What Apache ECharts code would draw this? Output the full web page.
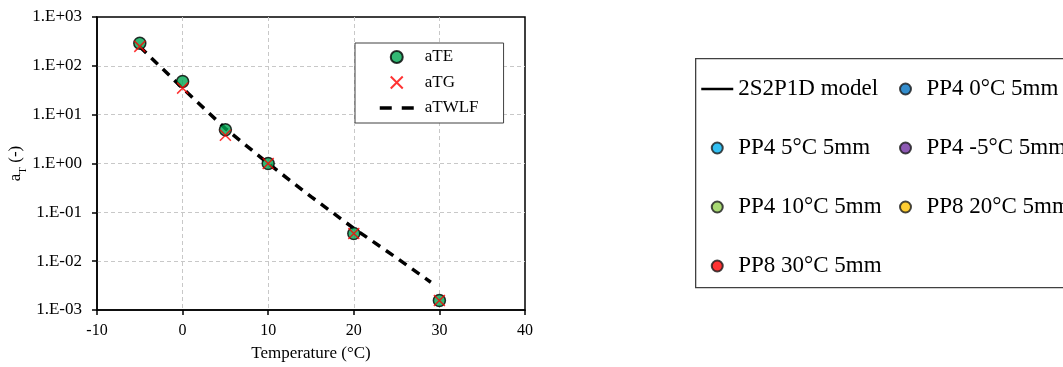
<!DOCTYPE html>
<html>
<head>
<meta charset="utf-8">
<script src="https://cdn.jsdelivr.net/npm/echarts@6/dist/echarts.min.js"></script>
<style>
html,body{margin:0;padding:0;background:#fff;overflow:hidden;}
#main{width:1100px;height:367px;}
</style>
</head>
<body>
<div id="main"></div>
<script>
// ---- data ----
const temps = [-5, 0, 5, 10, 20, 30];
const aTE = [290, 48, 4.9, 1.0, 0.037, 0.00156];
const aTG = [250, 35, 3.8, 1.0, 0.037, 0.00156];
const wlfTemps = [-5, 0, 5, 10, 15, 20, 25, 29];
const aTWLF = [245, 35, 5.2, 1.0, 0.21, 0.047, 0.0117, 0.0037];
const xTicks = [-10, 0, 10, 20, 30, 40];
const yTickLabels = ['1.E-03', '1.E-02', '1.E-01', '1.E+00', '1.E+01', '1.E+02', '1.E+03'];
const seriesNames = ['aTE', 'aTG', 'aTWLF'];
const outerCol1 = ['2S2P1D model', 'PP4 5°C 5mm', 'PP4 10°C 5mm', 'PP8 30°C 5mm'];
const outerCol2 = ['PP4 0°C 5mm', 'PP4 -5°C 5mm', 'PP8 20°C 5mm'];
const outerColors = {
  'PP4 0°C 5mm': '#0070C0',
  'PP4 5°C 5mm': '#00B0F0',
  'PP4 -5°C 5mm': '#7030A0',
  'PP4 10°C 5mm': '#92D050',
  'PP8 20°C 5mm': '#FFC000',
  'PP8 30°C 5mm': '#FF0000'
};

const FONT = 'Liberation Serif';
const chart = echarts.init(document.getElementById('main'));
const W = 1100;

const series = [
  {
    name: seriesNames[2], type: 'line', z: 2,
    data: wlfTemps.map((t, i) => [t, aTWLF[i]]),
    symbol: 'none', smooth: false,
    lineStyle: { color: '#000', width: 3.5, type: [9, 7] },
    itemStyle: { color: '#000' }
  },
  {
    name: seriesNames[0], type: 'scatter', z: 3,
    data: temps.map((t, i) => [t, aTE[i]]),
    symbol: 'circle', symbolSize: 12,
    itemStyle: { color: '#00A651', borderColor: '#000', borderWidth: 1.5 }
  },
  {
    name: seriesNames[1], type: 'scatter', z: 4,
    data: temps.map((t, i) => [t, aTG[i]]),
    symbol: 'path://M0,0L10,10M10,0L0,10', symbolSize: 11,
    itemStyle: { color: 'transparent', borderColor: '#FF0000', borderWidth: 1.5 }
  },
  {
    name: outerCol1[0], type: 'line', data: [], symbol: 'none',
    lineStyle: { color: '#000', width: 2.5 }, itemStyle: { color: '#000' }
  }
];
Object.keys(outerColors).forEach(n => {
  series.push({
    name: n, type: 'scatter', data: [], symbol: 'circle',
    itemStyle: { color: outerColors[n], borderColor: '#1a1a1a', borderWidth: 1.2 }
  });
});

const lineLegendItem = (n, ls) => ({ name: n, itemStyle: { opacity: 0 }, lineStyle: ls });

const option = {
  animation: false,
  backgroundColor: '#fff',
  textStyle: { fontFamily: FONT, color: '#000' },
  grid: {
    left: 97, right: W - 525, top: 17, bottom: 55,
    show: true, borderColor: '#000', borderWidth: 1.5, backgroundColor: 'transparent'
  },
  xAxis: {
    type: 'value', min: xTicks[0], max: xTicks[xTicks.length - 1], interval: 10,
    name: 'Temperature (°C)', nameLocation: 'middle', nameGap: 35,
    nameTextStyle: { fontFamily: FONT, fontSize: 17, color: '#000' },
    axisLine: { show: true, onZero: false, lineStyle: { color: '#000', width: 1.5 } },
    axisTick: { show: true, inside: false, length: 5, lineStyle: { color: '#000', width: 1.5 } },
    axisLabel: { fontFamily: FONT, fontSize: 16, color: '#000', margin: 13 },
    splitLine: { show: true, showMinLine: false, showMaxLine: false,
      lineStyle: { color: '#c8c8c8', type: [4, 3], width: 1 } }
  },
  yAxis: {
    type: 'log', logBase: 10, min: 0.001, max: 1000, interval: 1,
    name: '{a|a}{s|T}{a| (-)}', nameLocation: 'middle', nameGap: 72,
    nameTextStyle: {
      fontFamily: FONT, fontSize: 17, color: '#000',
      rich: {
        a: { fontFamily: FONT, fontSize: 17, color: '#000' },
        s: { fontFamily: FONT, fontSize: 11, color: '#000', verticalAlign: 'bottom', padding: [0, 0, -4, 0] }
      }
    },
    axisLine: { show: true, onZero: false, lineStyle: { color: '#000', width: 1.5 } },
    axisTick: { show: true, inside: false, length: 5, lineStyle: { color: '#000', width: 1.5 } },
    axisLabel: {
      fontFamily: FONT, fontSize: 17, color: '#000', margin: 15,
      formatter: v => yTickLabels[Math.round(Math.log10(v)) + 3]
    },
    splitLine: { show: true, showMinLine: false, showMaxLine: false,
      lineStyle: { color: '#c8c8c8', type: [4, 3], width: 1 } }
  },
  legend: [
    {
      data: [seriesNames[0], seriesNames[1],
        lineLegendItem(seriesNames[2], { color: '#000', width: 3.5, type: [12, 10] })],
      orient: 'vertical', left: 355, top: 43,
      backgroundColor: '#fff', borderColor: '#404040', borderWidth: 1,
      padding: [5.5, 25, 6.5, 23], itemWidth: 34, itemHeight: 12, itemGap: 8.5,
      textStyle: { fontFamily: FONT, fontSize: 17, color: '#000', padding: [0, 0, 0, 6] },
      selectedMode: false
    },
    {
      data: [lineLegendItem(outerCol1[0], { color: '#000', width: 2.5 })].concat(outerCol1.slice(1)),
      orient: 'vertical', left: 700, top: 77,
      padding: 0, itemWidth: 32, itemHeight: 11, itemGap: 35,
      textStyle: { fontFamily: FONT, fontSize: 23, color: '#000', lineHeight: 24 },
      selectedMode: false
    },
    {
      data: outerCol2, orient: 'vertical', left: 899, top: 77,
      padding: 0, itemWidth: 32, itemHeight: 11, itemGap: 35,
      textStyle: { fontFamily: FONT, fontSize: 23, color: '#000', lineHeight: 24 },
      selectedMode: false
    }
  ],
  graphic: [
    {
      type: 'rect', left: 695, top: 58, z: -1,
      shape: { width: 420, height: 229 },
      style: { fill: '#fff', stroke: '#404040', lineWidth: 1.3 }
    }
  ],
  series: series
};
chart.setOption(option);
</script>
</body>
</html>
